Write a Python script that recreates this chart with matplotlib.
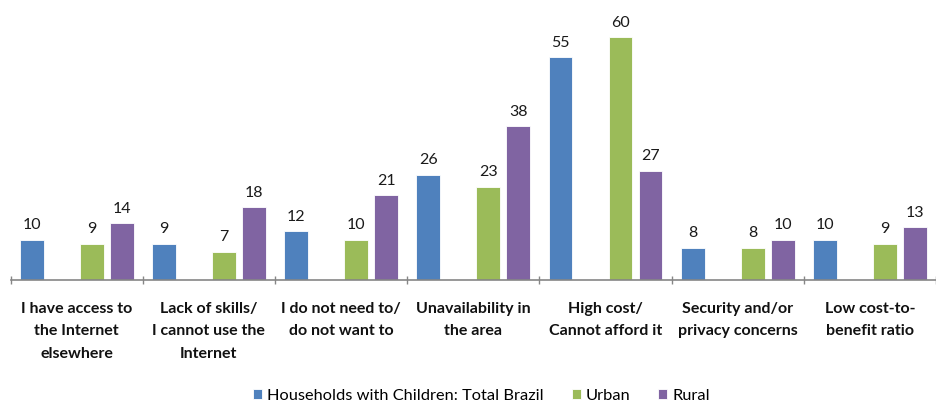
import numpy as np
import matplotlib
matplotlib.use("Agg")
import matplotlib.pyplot as plt

plt.rcParams['font.family'] = ['Lato', 'DejaVu Sans']

categories = [
    "I have access to\nthe Internet\nelsewhere",
    "Lack of skills/\nI cannot use the\nInternet",
    "I do not need to/\ndo not want to",
    "Unavailability in\nthe area",
    "High cost/\nCannot afford it",
    "Security and/or\nprivacy concerns",
    "Low cost-to-\nbenefit ratio",
]
series_names = ["Households with Children: Total Brazil", "Urban", "Rural"]
total_brazil = [10, 9, 12, 26, 55, 8, 10]
urban = [9, 7, 10, 23, 60, 8, 9]
rural = [14, 18, 21, 38, 27, 10, 13]

colors = ["#4F81BD", "#9BBB59", "#8064A2"]
# four slots per category; the second slot stays empty
slot_offsets = [-1.5, 0.5, 1.5]
slot = 0.227
bar_w = 0.181

W, H, DPI = 936, 405, 100
cat_px = 133.7
fig = plt.figure(figsize=(W / DPI, H / DPI), dpi=DPI)
left = 10.6 / W
bottom = (H - 280) / H
ax = fig.add_axes([left, bottom, 1 - left, 280 / H])

x = np.arange(len(categories))
handles = []
for vals, off, col, name in zip([total_brazil, urban, rural], slot_offsets, colors, series_names):
    bars = ax.bar(x + off * slot, vals, width=bar_w, color=col, edgecolor="white",
                  linewidth=0.6, label=name, zorder=2)
    handles.append(bars)
    for xi, v in zip(x + off * slot, vals):
        ax.annotate(str(v), (xi, v), xytext=(0, 7.5), textcoords="offset points",
                    ha="center", va="baseline", fontsize=11.5, color="#1a1a1a")

ax.set_xlim(-0.5, -0.5 + (W - 10.6) / cat_px)
ax.set_ylim(0, 280 / 4.05)

for s in ["top", "right", "left"]:
    ax.spines[s].set_visible(False)
ax.spines["bottom"].set_color("#868686")
ax.spines["bottom"].set_linewidth(1.2)
ax.set_yticks([])

ax.set_xticks(np.arange(len(categories) + 1) - 0.5)
ax.set_xticklabels([])
ax.tick_params(axis="x", which="major", length=6, width=1, color="#868686", direction="inout")
ax.set_xticks(x, minor=True)
ax.set_xticklabels(categories, minor=True, fontweight="bold", fontsize=11.5,
                   linespacing=1.8, color="#111111")
ax.tick_params(axis="x", which="minor", length=0, pad=15.5)

fig.legend(handles=handles, labels=series_names, loc="center",
           bbox_to_anchor=(481.5 / W, 1 - 396 / H), ncol=3, frameon=False,
           fontsize=11.8, handlelength=0.55, handleheight=0.55, handletextpad=0.3,
           columnspacing=1.7, borderpad=0, borderaxespad=0)

fig.savefig("out.png", dpi=DPI)
